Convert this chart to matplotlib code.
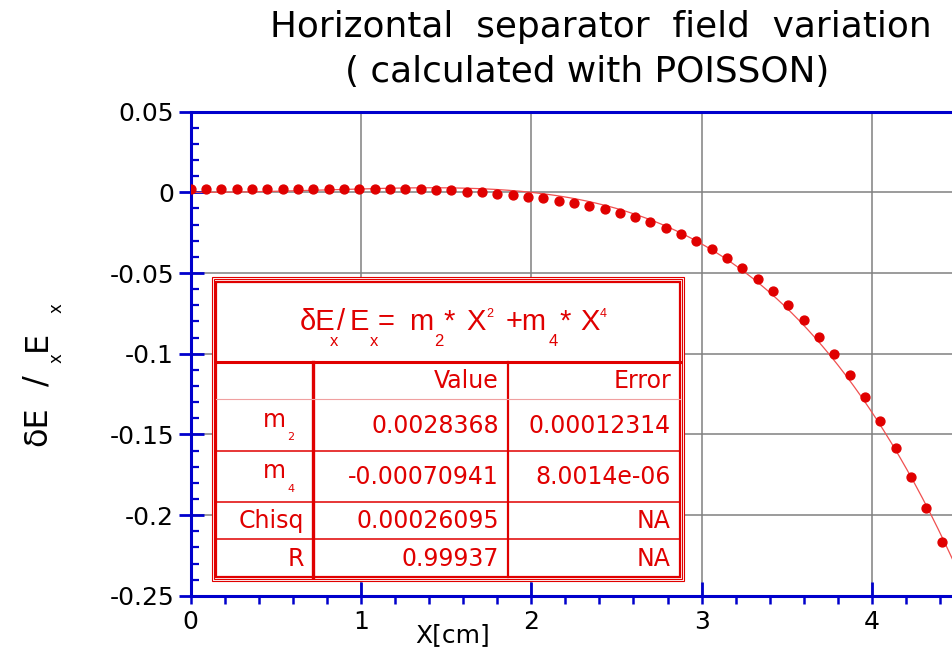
import numpy as np
import matplotlib.pyplot as plt
from matplotlib.patches import Rectangle

# field map sampled every 0.09 cm, relative deviation dE/E
x = np.arange(51) * 0.09
dE = [0.0023, 0.0023, 0.0023, 0.0023, 0.0023, 0.0023, 0.0023, 0.0022, 0.0022,
      0.0022, 0.0022, 0.0021, 0.0021, 0.0022, 0.0020, 0.0019, 0.0014, 0.0012,
      0.0005, 0.0002, -0.0009, -0.0017, -0.0027, -0.0036, -0.0051, -0.0066,
      -0.0083, -0.0103, -0.0126, -0.0153, -0.0186, -0.0221, -0.0259, -0.0304,
      -0.0353, -0.0407, -0.0467, -0.0538, -0.0614, -0.0701, -0.0790, -0.0895,
      -0.1004, -0.1131, -0.1271, -0.1418, -0.1583, -0.1763, -0.1957, -0.2166,
      -0.2393]

# fit results  dE/E = m2*X^2 + m4*X^4
m2, m2_err = 0.0028368, 0.00012314
m4, m4_err = -0.00070941, 8.0014e-06
chisq = 0.00026095
r_fit = 0.99937

xticks = [0, 1, 2, 3, 4]
xticklabels = ['0', '1', '2', '3', '4']
yticks = [-0.25, -0.2, -0.15, -0.1, -0.05, 0, 0.05]
yticklabels = ['-0.25', '-0.2', '-0.15', '-0.1', '-0.05', '0', '0.05']

red = '#e00000'
blue = '#0000cc'
arial = 'Liberation Sans'

fig = plt.figure(figsize=(9.53, 6.56), dpi=100)
ax = fig.add_axes([0.2001, 0.0918, 0.8041, 0.738])

xf = np.linspace(0, 4.5, 400)
ax.plot(xf, m2 * xf**2 + m4 * xf**4, color='#f05050', lw=0.9, zorder=3)
ax.plot(x, dE, 'o', color=red, ms=6.4, mec=red, zorder=4)

ax.set_xlim(0, 4.5)
ax.set_ylim(-0.25, 0.05)
ax.set_xticks(xticks)
ax.set_xticklabels(xticklabels)
ax.set_xticks(np.arange(0, 4.41, 0.2), minor=True)
ax.xaxis.remove_overlapping_locs = False
ax.set_yticks(yticks)
ax.set_yticklabels(yticklabels)
ax.set_yticks(np.arange(-0.25, 0.051, 0.01), minor=True)

ax.grid(True, which='major', color='#808080', lw=1.1, zorder=1)
ax.set_axisbelow(True)
for side in ['left', 'bottom', 'top']:
    ax.spines[side].set_color(blue)
    ax.spines[side].set_linewidth(2.2)
ax.spines['right'].set_visible(False)

ax.tick_params(axis='x', which='major', direction='in', length=10, width=2,
               color=blue, labelsize=18, pad=10)
ax.tick_params(axis='x', which='minor', direction='out', length=5.5, width=1.8,
               color=blue)
ax.tick_params(axis='y', which='major', direction='inout', length=18, width=2,
               color=blue, labelsize=18, pad=3)
ax.tick_params(axis='y', which='minor', direction='in', length=6, width=1.6,
               color=blue)

# overlay in pixel units for the title, labels and the fit table
ov = fig.add_axes([0, 0, 1, 1], zorder=5)
ov.set_xlim(0, 953)
ov.set_ylim(656, 0)
ov.axis('off')

ov.text(270, 37, 'Horizontal  separator  field  variation', size=25.8,
        ha='left', va='baseline')
ov.text(345, 82, '( calculated with POISSON)', size=25.8, ha='left',
        va='baseline')
ov.text(415, 642, 'X[cm]', size=18, ha='left', va='baseline')

# y label, rotated; subscripts sit right of the baseline
for s, size, xb, yb in [('δE', 23, 46, 446), ('/', 23, 46, 386),
                        ('E', 23, 46, 351), ('x', 12, 62, 363),
                        ('x', 12, 62, 313)]:
    ov.text(xb, yb, s, size=size, rotation=90, rotation_mode='anchor',
            ha='left', va='baseline')

# table frame
L, T, R, B = 212.3, 277.3, 684.3, 581
ov.add_patch(Rectangle((L, T), R - L, B - T, fc='white', ec=red, lw=0.8))
ov.add_patch(Rectangle((L + 2, T + 2), R - L - 4, B - T - 4, fill=False,
                       ec=red, lw=0.8))
iL, iT, iR, iB = 216, 282, 680.5, 576.7
ov.add_patch(Rectangle((iL, iT), iR - iL, iB - iT, fill=False, ec=red, lw=1.6))
ov.plot([iL, iR], [362, 362], color=red, lw=2.2)
ov.plot([313.5, 313.5], [362, iB], color=red, lw=2.4)
ov.plot([507.7, 507.7], [362, iB], color=red, lw=1.6)
ov.plot([iL, iR], [399, 399], color='#f0a0a0', lw=0.8)
for yr in [451, 502, 539]:
    ov.plot([iL, iR], [yr, yr], color=red, lw=1.1)

# formula line
fsize, ssize, psize = 21, 12, 9
base, sub_base, sup_base = 330, 346, 317
for xp, s, size, yb in [(301, 'δE', fsize, base), (331.5, 'x', ssize, sub_base),
                        (339, '/', fsize, base), (351, 'E', fsize, base),
                        (371.5, 'x', ssize, sub_base), (379, '=', fsize, base),
                        (410.5, 'm', fsize, base), (435.5, '2', ssize, sub_base),
                        (444.5, '*', fsize, base), (467.5, 'X', fsize, base),
                        (488, '2', psize, sup_base), (507, '+m', fsize, base),
                        (550, '4', ssize, sub_base), (560.5, '*', fsize, base),
                        (582, 'X', fsize, base), (601, '4', psize, sup_base)]:
    ov.text(xp - 1.5, yb, s, size=size, color=red, family=arial,
            ha='left', va='baseline')

tsize = 17
ov.text(499, 388, 'Value', size=tsize, color=red, ha='right', va='baseline')
ov.text(671, 388, 'Error', size=tsize, color=red, ha='right', va='baseline')

rows = [('m', '2', f'{m2:g}', f'{m2_err:g}', 433),
        ('m', '4', f'{m4:g}', f'{m4_err:g}', 484.5),
        ('Chisq', '', f'{chisq:g}', 'NA', 528.3),
        ('R', '', f'{r_fit:g}', 'NA', 565.7)]
for name, idx, val, err, yb in rows:
    if idx:
        ov.text(294.5, yb + 7, idx, size=8, color=red, ha='right', va='baseline')
        ov.text(286, yb - 6, name, size=tsize, color=red, ha='right',
                va='baseline')
    else:
        ov.text(304, yb, name, size=tsize, color=red, ha='right', va='baseline')
    ov.text(499, yb, val, size=tsize, color=red, ha='right', va='baseline')
    ov.text(671, yb, err, size=tsize, color=red, ha='right', va='baseline')

fig.savefig('out.png', dpi=100)
